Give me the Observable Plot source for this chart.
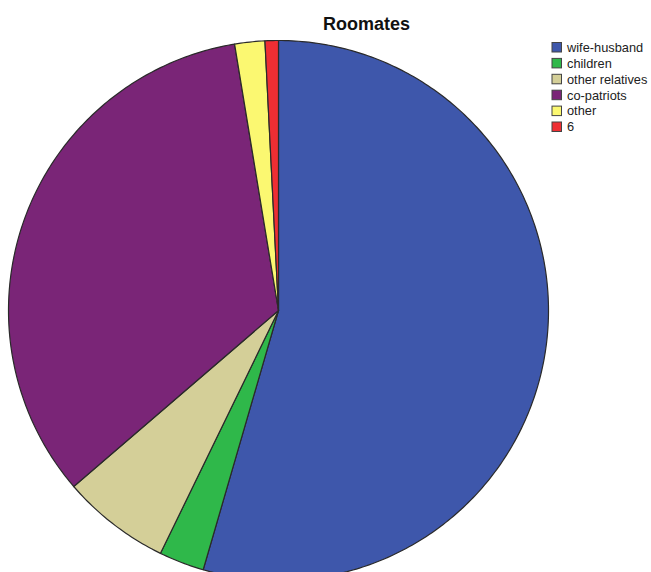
<!DOCTYPE html>
<html>
<head>
<meta charset="utf-8">
<script src="https://cdn.jsdelivr.net/npm/d3@7"></script>
<script src="https://cdn.jsdelivr.net/npm/@observablehq/plot@0.6"></script>
<style>
  html, body { margin: 0; padding: 0; background: #fff; }
  #chart svg { display: block; }
</style>
</head>
<body>
<div id="chart"></div>
<script>
const title = "Roomates";
const categories = ["wife-husband", "children", "other relatives", "co-patriots", "other", "6"];
const values = [54.5, 2.7, 6.5, 33.7, 1.8, 0.8];
const colors = ["#3E57AB", "#2FB84A", "#D4CF98", "#7A2577", "#FBF871", "#EE2E33"];

const W = 651, H = 572;
const cx = 278, cy = 310, R = 270;

const pie = d3.pie().sort(null).value(d => d)(values);
const pts = [];
pie.forEach((p, i) => {
  const cat = categories[i];
  pts.push({cat, x: cx, y: cy});
  const n = Math.max(4, Math.ceil((p.endAngle - p.startAngle) * 80));
  for (let k = 0; k <= n; k++) {
    const a = p.startAngle + (p.endAngle - p.startAngle) * k / n;
    pts.push({cat, x: cx + R * Math.sin(a), y: cy - R * Math.cos(a)});
  }
  pts.push({cat, x: cx, y: cy});
});

const legend = categories.map((c, i) => ({cat: c, i}));
const lx = 552, ly0 = 42.5, lstep = 15.9, sw = 9.5;

const chart = Plot.plot({
  width: W, height: H,
  margin: 0,
  x: {domain: [0, W], range: [0, W], axis: null},
  y: {domain: [0, H], range: [0, H], axis: null},
  color: {domain: categories, range: colors},
  style: {fontFamily: "'Liberation Sans', Arial, sans-serif", background: "#fff"},
  marks: [
    Plot.line(pts, {x: "x", y: "y", z: "cat", fill: "cat", stroke: "#2a2a2a", strokeWidth: 1.2, strokeLinejoin: "round", curve: "linear"}),
    Plot.text([title], {x: 366, y: 24, text: d => d, fontSize: 18, fontWeight: "bold", fill: "#111"}),
    Plot.rect(legend, {x1: lx, x2: lx + sw, y1: d => ly0 + d.i * lstep, y2: d => ly0 + d.i * lstep + sw, fill: "cat", stroke: "#444", strokeWidth: 1}),
    Plot.text(legend, {x: lx + 14.5, y: d => ly0 + d.i * lstep + sw / 2, text: "cat", textAnchor: "start", fontSize: 12.8, fill: "#222"})
  ]
});
document.getElementById("chart").appendChild(chart);
</script>
</body>
</html>
